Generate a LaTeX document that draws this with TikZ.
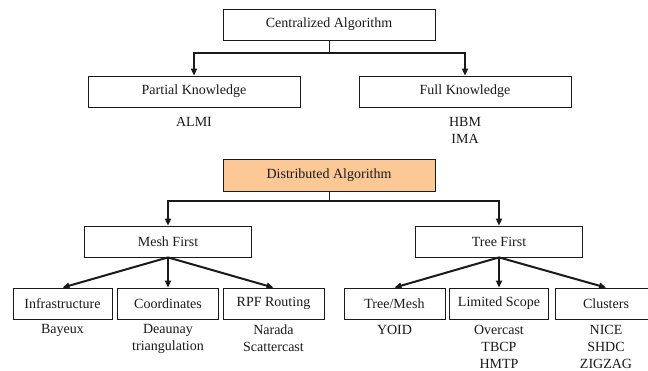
\documentclass[tikz,border=0pt]{standalone}
\usepackage{fontspec}
\setmainfont{Liberation Serif}
\usetikzlibrary{arrows.meta}
\definecolor{peach}{HTML}{FBC896}
\definecolor{ink}{HTML}{1A1A1A}
\tikzset{
  box/.style={draw=ink, line width=0.8pt, minimum height=31pt, inner sep=0pt,
    text=ink, font=\fontsize{14}{17}\selectfont},
  lbl/.style={inner sep=0pt, align=center, text=ink, font=\fontsize{14}{17}\selectfont},
  stem/.style={draw=ink, line width=0.9pt},
  bar/.style={draw=ink, line width=2.6pt, line join=miter,
    -{Triangle[length=7pt,width=6pt]}},
  fan/.style={draw=ink, line width=2pt,
    -{Triangle[length=7pt,width=6pt]}}
}
\begin{document}
\begin{tikzpicture}[x=1pt,y=-1pt]
\useasboundingbox[fill=white] (0,0) rectangle (648,371);
\clip (0,0) rectangle (648,371);
% centralized part
\node[box, minimum width=212pt] (cent) at (329,24.5) {Centralized Algorithm};
\node[box, minimum width=212pt] (partial) at (194,91.5) {Partial Knowledge};
\node[box, minimum width=212pt] (full) at (465,91.5) {Full Knowledge};
\node[lbl] (almi) at (194,122) {ALMI};
\node[lbl] (hbm) at (465,130) {HBM\\IMA};
\coordinate (cbar) at (329,53);
\draw[stem] (cent.south) -- (cbar);
\draw[bar] (cbar) -| (partial.north);
\draw[bar] (cbar) -| (full.north);
% distributed part
\node[box, fill=peach, minimum width=212pt, minimum height=32pt] (dist) at (329,175) {Distributed Algorithm};
\node[box, minimum width=167pt] (mesh) at (168,241.5) {Mesh First};
\node[box, minimum width=167pt] (tree) at (499,241.5) {Tree First};
\coordinate (dbar) at (329,201);
\draw[stem] (dist.south) -- (dbar);
\draw[bar] (dbar) -| (mesh.north);
\draw[bar] (dbar) -| (tree.north);
% bottom level
\node[box, minimum width=99pt] (infra) at (62.5,303.5) {Infrastructure};
\node[box, minimum width=101pt] (coord) at (168,303.5) {Coordinates};
\node[box, minimum width=101pt] (rpf) at (273.5,303.5) {RPF Routing};
\node[box, minimum width=101pt] (tm) at (394.5,303.5) {Tree/Mesh};
\node[box, minimum width=99pt] (lim) at (499,303.5) {Limited Scope};
\node[box, minimum width=102pt] (clu) at (606,303.5) {Clusters};
\draw[fan] (mesh.south) -- (infra.north);
\draw[fan] (mesh.south) -- (coord.north);
\draw[fan] (mesh.south) -- (rpf.north);
\draw[fan] (tree.south) -- (tm.north);
\draw[fan] (tree.south) -- (lim.north);
\draw[fan] (tree.south) -- (clu.north);
\node[lbl] (bay) at (62.5,330) {Bayeux};
\node[lbl] (del) at (168,338.5) {Deaunay\\triangulation};
\node[lbl] (nar) at (273.5,338.5) {Narada\\Scattercast};
\node[lbl] (yoid) at (394.5,330) {YOID};
\node[lbl] (over) at (499,347) {Overcast\\TBCP\\HMTP};
\node[lbl] (nice) at (606,347) {NICE\\SHDC\\ZIGZAG};
\end{tikzpicture}
\end{document}
